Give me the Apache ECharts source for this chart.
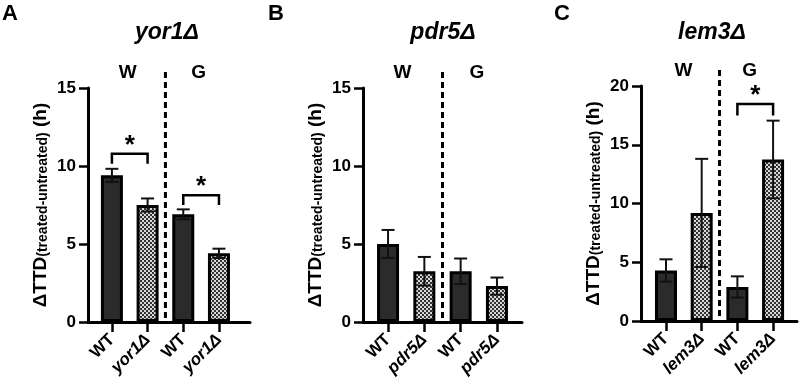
<!DOCTYPE html>
<html><head><meta charset="utf-8">
<script src="https://cdn.jsdelivr.net/npm/echarts@6/dist/echarts.min.js"></script>
<style>html,body{margin:0;padding:0;background:#fff}#c{width:800px;height:389px}</style>
</head><body><div id="c"></div>
<script>
// ---------- data ----------
const panelLetters = ['A', 'B', 'C'];
const panelTitles = ['yor1Δ', 'pdr5Δ', 'lem3Δ'];
const groupLabels = ['W', 'G'];
const catsA = ['WT', 'yor1Δ', 'WT', 'yor1Δ'];
const catsB = ['WT', 'pdr5Δ', 'WT', 'pdr5Δ'];
const catsC = ['WT', 'lem3Δ', 'WT', 'lem3Δ'];
const meanA = [9.4, 7.5, 6.9, 4.4];
const errA = [0.42, 0.42, 0.32, 0.3];
const meanB = [5.0, 3.25, 3.25, 2.3];
const errB = [0.9, 0.92, 0.82, 0.55];
const meanC = [4.3, 9.2, 2.9, 13.75];
const errC = [0.95, 4.6, 0.9, 3.3];
const yMaxA = 15, yMaxB = 15, yMaxC = 20;
const yInterval = 5;
// significance brackets: [from category, to category, bracket value, leg-end value]
const sigA = [[0, 1, 10.78, 10.15], [2, 3, 8.12, 7.5]];
const sigB = [];
const sigC = [[2, 3, 18.47, 17.5]];
const yAxisName = ['ΔTTD', '(treated-untreated)', ' (h)'];

// ---------- layout / style ----------
const FONT = '"Liberation Sans", Arial, sans-serif';
const layouts = [
  { left: 88, top: 88, width: 162, height: 234, xMin: -0.67, xMax: 3.87, groupX: [0.44, 2.43], titleX: 167, letterX: 2 },
  { left: 363, top: 88, width: 159, height: 234, xMin: -0.69, xMax: 3.69, groupX: [0.4, 2.45], titleX: 443, letterX: 268 },
  { left: 641, top: 86, width: 156, height: 235, xMin: -0.70, xMax: 3.67, groupX: [0.49, 2.34], titleX: 712, letterX: 554 }
];
const panels = [
  { cats: catsA, mean: meanA, err: errA, yMax: yMaxA, sig: sigA },
  { cats: catsB, mean: meanB, err: errB, yMax: yMaxB, sig: sigB },
  { cats: catsC, mean: meanC, err: errC, yMax: yMaxC, sig: sigC }
];

const checker = (function () {
  const c = document.createElement('canvas');
  c.width = 4; c.height = 4;
  const g = c.getContext('2d');
  g.fillStyle = '#d8d8d8'; g.fillRect(0, 0, 4, 4);
  g.fillStyle = '#333333'; g.fillRect(0, 0, 2, 2); g.fillRect(2, 2, 2, 2);
  return c;
})();

const grids = [], xAxes = [], yAxes = [], series = [], graphics = [];

panels.forEach(function (p, i) {
  const L = layouts[i];
  grids.push({ left: L.left, top: L.top, width: L.width, height: L.height, containLabel: false });
  const idx = [0, 1, 2, 3];
  xAxes.push({
    type: 'value', gridIndex: i, min: L.xMin, max: L.xMax,
    splitLine: { show: false },
    axisLine: { show: true, onZero: false, lineStyle: { color: '#000', width: 3 } },
    axisTick: { show: true, customValues: idx, length: 10, lineStyle: { color: '#000', width: 2.5 } },
    axisLabel: {
      show: true, customValues: idx, rotate: 45, margin: 15,
      formatter: function (v) {
        const k = Math.round(v);
        return (k % 2 === 0 ? '{w|' : '{m|') + p.cats[k] + '}';
      },
      rich: {
        w: { fontFamily: FONT, fontWeight: 'bold', fontSize: 17, color: '#000' },
        m: { fontFamily: FONT, fontWeight: 'bold', fontStyle: 'italic', fontSize: 17, color: '#000' }
      }
    }
  });
  yAxes.push({
    type: 'value', gridIndex: i, min: 0, max: p.yMax, interval: yInterval,
    splitLine: { show: false },
    axisLine: { show: true, onZero: false, lineStyle: { color: '#000', width: 3 } },
    axisTick: { show: true, length: 9, lineStyle: { color: '#000', width: 2.5 } },
    axisLabel: { fontFamily: FONT, fontWeight: 'bold', fontSize: 17, color: '#000', margin: 12 },
    name: '{a|' + yAxisName[0] + '}{b|' + yAxisName[1] + '}{a|' + yAxisName[2] + '}',
    nameLocation: 'middle', nameRotate: 90, nameGap: 38,
    nameTextStyle: {
      rich: {
        a: { fontFamily: FONT, fontWeight: 'bold', fontSize: 19, lineHeight: 19, color: '#000', verticalAlign: 'top' },
        b: { fontFamily: FONT, fontWeight: 'bold', fontSize: 14, lineHeight: 14, color: '#000', verticalAlign: 'bottom', padding: [8, 0, 0, 0] }
      }
    }
  });

  // bars
  series.push({
    type: 'bar', xAxisIndex: i, yAxisIndex: i, barWidth: 22, z: 2,
    data: p.mean.map(function (v, k) {
      return { value: [k, v], itemStyle: { color: k % 2 ? { image: checker, repeat: 'repeat' } : '#2b2b2b' } };
    }),
    itemStyle: { borderColor: '#000', borderWidth: 3 }
  });

  // error bars
  series.push({
    type: 'custom', xAxisIndex: i, yAxisIndex: i, z: 3,
    data: p.mean.map(function (v, k) { return [k, v, p.err[k]]; }),
    renderItem: function (params, api) {
      const x = api.value(0), v = api.value(1), e = api.value(2);
      const top = api.coord([x, v + e]), bot = api.coord([x, v - e]);
      const hw = 6.5;
      const st = { stroke: '#111', lineWidth: 2 };
      return {
        type: 'group', children: [
          { type: 'line', shape: { x1: top[0], y1: top[1], x2: bot[0], y2: bot[1] }, style: st },
          { type: 'line', shape: { x1: top[0] - hw, y1: top[1], x2: top[0] + hw, y2: top[1] }, style: st },
          { type: 'line', shape: { x1: bot[0] - hw, y1: bot[1], x2: bot[0] + hw, y2: bot[1] }, style: st }
        ]
      };
    }
  });

  // significance brackets
  if (p.sig.length) {
    series.push({
      type: 'custom', xAxisIndex: i, yAxisIndex: i, z: 4, clip: false,
      data: p.sig,
      renderItem: function (params, api) {
        const a = api.coord([api.value(0), api.value(2)]);
        const b = api.coord([api.value(1), api.value(2)]);
        const legY = api.coord([api.value(0), api.value(3)])[1];
        return {
          type: 'group', children: [
            { type: 'polyline', shape: { points: [[a[0], legY], [a[0], a[1]], [b[0], b[1]], [b[0], legY]] },
              style: { stroke: '#000', lineWidth: 2.5, fill: null } },
            { type: 'text', style: { text: '*', x: (a[0] + b[0]) / 2, y: a[1] - 8, align: 'center', verticalAlign: 'middle',
              font: 'bold 26px ' + FONT, fill: '#000' } }
          ]
        };
      }
    });
  }

  // divider between W and G groups + group labels
  series.push({
    type: 'custom', xAxisIndex: i, yAxisIndex: i, z: 1, clip: false,
    data: [[1.5]],
    renderItem: function (params, api) {
      const base = api.coord([api.value(0), 0]);
      const topPx = api.coord([api.value(0), p.yMax])[1];
      const children = [
        { type: 'line', shape: { x1: base[0], y1: topPx - 16, x2: base[0], y2: base[1] },
          style: { stroke: '#000', lineWidth: 3, lineDash: [6, 4] } }
      ];
      groupLabels.forEach(function (g, gi) {
        const gx = api.coord([L.groupX[gi], 0])[0];
        children.push({ type: 'text', style: { text: g, x: gx, y: topPx - 15, align: 'center', verticalAlign: 'middle',
          font: 'bold 19px ' + FONT, fill: '#000' } });
      });
      return { type: 'group', children: children };
    }
  });

  graphics.push({ type: 'text', left: L.letterX, top: 3,
    style: { text: panelLetters[i], font: 'bold 22px ' + FONT, fill: '#000' } });
  graphics.push({ type: 'text', x: L.titleX, y: 33,
    style: { text: panelTitles[i], font: 'italic bold 23px ' + FONT, fill: '#000', align: 'center', verticalAlign: 'middle' } });
});

const chart = echarts.init(document.getElementById('c'), null, { renderer: 'canvas' });
chart.setOption({
  animation: false,
  backgroundColor: '#fff',
  grid: grids, xAxis: xAxes, yAxis: yAxes, series: series, graphic: graphics
});
</script>
</body></html>
